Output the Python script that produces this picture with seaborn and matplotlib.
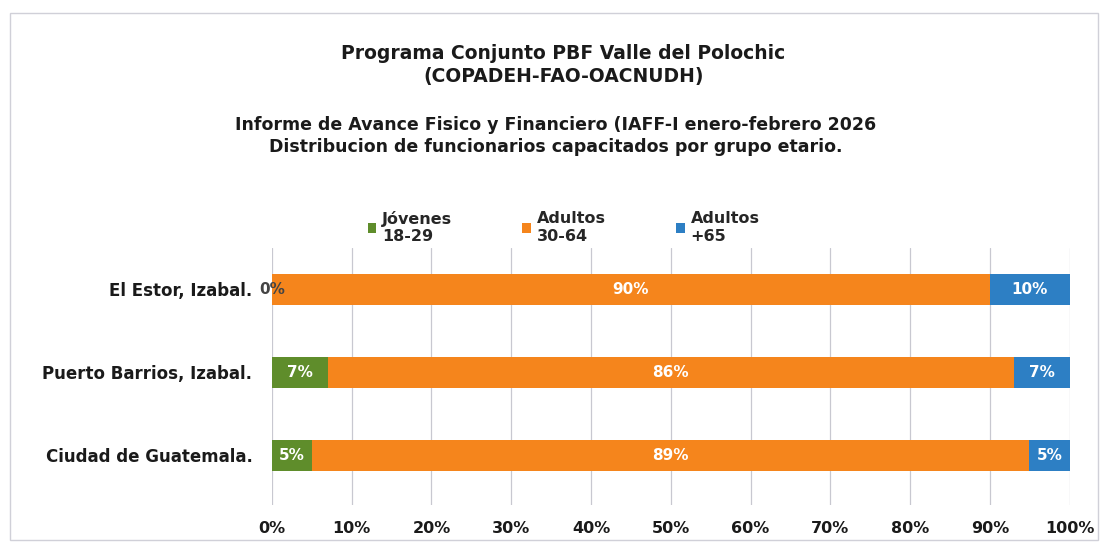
import numpy as np
import pandas as pd
import matplotlib.pyplot as plt
import seaborn as sns
from matplotlib.patches import Patch, Rectangle

# datos
lugares = ["El Estor, Izabal.", "Puerto Barrios, Izabal.", "Ciudad de Guatemala."]
grupos = ["Jóvenes\n18-29", "Adultos\n30-64", "Adultos\n+65"]
jovenes = [0, 7, 5]
adultos = [90, 86, 89]
mayores = [10, 7, 5]
ticks = [0, 10, 20, 30, 40, 50, 60, 70, 80, 90, 100]
tick_labels = ["0%", "10%", "20%", "30%", "40%", "50%", "60%", "70%", "80%", "90%", "100%"]

colores = ["#5f8d2b", "#f5851c", "#2d7fc4"]

sns.set_style("white")
plt.rcParams["font.family"] = ["DejaVu Sans"]
plt.rcParams["font.weight"] = "bold"

df = pd.DataFrame({"lugar": lugares, "jov": jovenes, "adu": adultos, "may": mayores})
total = df[["jov", "adu", "may"]].sum(axis=1)
df["c1"] = df["jov"] / total * 100
df["c2"] = (df["jov"] + df["adu"]) / total * 100
df["c3"] = (df["jov"] + df["adu"] + df["may"]) / total * 100

fig = plt.figure(figsize=(11.05, 5.48), dpi=100)
ax = fig.add_axes([0.246, 0.078, 0.722, 0.47])

# barras apiladas: se dibuja el acumulado de mayor a menor
for col, c in zip(["c3", "c2", "c1"], colores[::-1]):
    sns.barplot(data=df, x=col, y="lugar", orient="h", color=c, saturation=1,
                width=0.37, edgecolor="none", ax=ax, zorder=3)

# etiquetas de datos
for i, row in df.iterrows():
    centros = [row.c1 / 2, (row.c1 + row.c2) / 2, (row.c2 + row.c3) / 2]
    vals = [row.jov, row.adu, row.may]
    for x, v in zip(centros, vals):
        col = "white" if v > 0 else "#444444"
        ax.text(x, i, f"{v}%", ha="center", va="center", color=col,
                fontsize=11, fontweight="bold", zorder=4)

ax.set_xlim(0, 100)
ax.set_ylim(2.6, -0.5)
ax.set_xticks(ticks)
ax.set_xticklabels(tick_labels)
ax.grid(axis="x", color="#c8c8d0", lw=0.9)
ax.set_axisbelow(True)
for s in ax.spines.values():
    s.set_visible(False)
ax.tick_params(axis="x", length=0, pad=11, labelsize=11.5, labelcolor="#1a1a1a")
ax.tick_params(axis="y", length=0, pad=14, labelsize=12, labelcolor="#1a1a1a")
for lab in ax.get_xticklabels() + ax.get_yticklabels():
    lab.set_fontweight("bold")
ax.set_xlabel("")
ax.set_ylabel("")

# leyenda
handles = [Patch(facecolor=c, edgecolor="none") for c in colores]
fig.legend(handles, grupos, loc="center", bbox_to_anchor=(0.51, 0.585), ncol=3,
           frameon=False, handlelength=0.55, handleheight=0.55,
           handletextpad=0.35, columnspacing=4.4,
           prop={"weight": "bold", "size": 11.5})

# titulos
fig.text(0.51, 0.881, "Programa Conjunto PBF Valle del Polochic\n(COPADEH-FAO-OACNUDH)",
         ha="center", va="center", fontsize=13.5, fontweight="bold",
         color="#1a1a1a", linespacing=1.25)
fig.text(0.503, 0.752, "Informe de Avance Fisico y Financiero (IAFF-I enero-febrero 2026\n"
         "Distribucion de funcionarios capacitados por grupo etario.",
         ha="center", va="center", fontsize=12.5, fontweight="bold",
         color="#1a1a1a", linespacing=1.3)

# marco exterior
fig.patches.append(Rectangle((0.009, 0.015), 0.985, 0.962, transform=fig.transFigure,
                             fill=False, edgecolor="#d0d0d8", lw=1))

fig.savefig("out.png", dpi=100)
